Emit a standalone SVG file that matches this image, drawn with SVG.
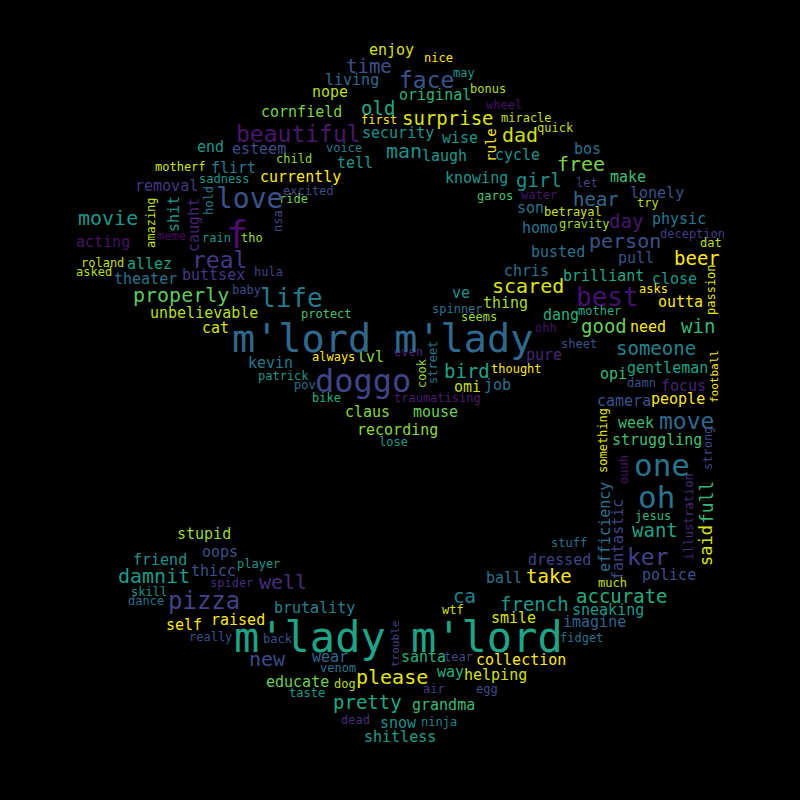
<svg xmlns="http://www.w3.org/2000/svg" width="800" height="800" viewBox="0 0 800 800">
<style>
text{font-family:"DejaVu Sans Mono","Liberation Mono",monospace}
.a{font-size:12px}.b{font-size:15px}.c{font-size:19px}.d{font-size:20px}.e{font-size:23px}
</style>
<rect width="800" height="800" fill="#000"/>
<g id="words">
<text x="369" y="55" class="b" fill="#d8e219">enjoy</text>
<text x="424" y="62" class="a" fill="#fde725">nice</text>
<text x="346" y="73" class="c" fill="#3b528b">time</text>
<text x="399" y="88" class="e" fill="#39568c">face</text>
<text x="453" y="77" class="a" fill="#1f968b">may</text>
<text x="325" y="85" class="b" fill="#31688e">living</text>
<text x="312" y="97" class="b" fill="#b5de2b">nope</text>
<text x="399" y="100" class="b" fill="#2db27d">original</text>
<text x="470" y="93" class="a" fill="#b5de2b">bonus</text>
<text x="486" y="109" class="a" fill="#471063">wheel</text>
<text x="361" y="115" class="c" fill="#25ab82">old</text>
<text x="402" y="125" class="c" fill="#dfe318">surprise</text>
<text x="361" y="124" class="a" fill="#fde725">first</text>
<text x="501" y="122" class="a" fill="#c2df23">miracle</text>
<text x="261" y="117" class="b" fill="#7ad151">cornfield</text>
<text x="236" y="142" class="e" fill="#48186a">beautiful</text>
<text x="362" y="138" class="b" fill="#21918c">security</text>
<text x="442" y="143" class="b" fill="#1f968b">wise</text>
<text transform="translate(496,162) rotate(-90)" font-size="14" fill="#fde725">rule</text>
<text x="502" y="142" class="d" fill="#d0e11c">dad</text>
<text x="537" y="132" class="a" fill="#c2df23">quick</text>
<text x="197" y="152" class="b" fill="#1f968b">end</text>
<text x="232" y="154" class="b" fill="#3e4a89">esteem</text>
<text x="326" y="152" class="a" fill="#2a788e">voice</text>
<text x="386" y="158" class="d" fill="#21918c">man</text>
<text x="422" y="161" class="b" fill="#1f968b">laugh</text>
<text x="495" y="160" class="b" fill="#218f8d">cycle</text>
<text x="574" y="154" class="b" fill="#2c728e">bos</text>
<text x="337" y="168" class="b" fill="#1f968b">tell</text>
<text x="276" y="163" class="a" fill="#8fd744">child</text>
<text x="155" y="171" class="a" fill="#d0e11c">motherf</text>
<text x="211" y="173" class="b" fill="#2a788e">flirt</text>
<text x="260" y="182" class="b" fill="#fde725">currently</text>
<text x="445" y="183" class="b" fill="#1f968b">knowing</text>
<text x="516" y="187" class="c" fill="#21918c">girl</text>
<text x="557" y="171" class="d" fill="#7ad151">free</text>
<text x="610" y="182" class="b" fill="#40bd72">make</text>
<text x="576" y="187" class="a" fill="#414487">let</text>
<text x="135" y="191" class="b" fill="#443983">removal</text>
<text x="199" y="183" class="a" fill="#1f968b">sadness</text>
<text x="283" y="195" class="a" fill="#3e4a89">excited</text>
<text x="279" y="203" class="a" fill="#6ece58">ride</text>
<text x="477" y="200" class="a" fill="#4ac16d">garos</text>
<text x="521" y="199" class="a" fill="#481668">water</text>
<text x="573" y="206" class="c" fill="#31688e">hear</text>
<text x="630" y="198" class="b" fill="#3b528b">lonely</text>
<text x="637" y="207" class="a" fill="#b5de2b">try</text>
<text x="517" y="213" class="b" fill="#2c728e">son</text>
<text x="544" y="216" class="a" fill="#c8e020">betrayal</text>
<text transform="translate(213,215) rotate(-90)" class="a" fill="#2a788e">hold</text>
<text transform="translate(179,232) rotate(-90)" class="b" fill="#1f968b">shit</text>
<text transform="translate(199,252) rotate(-90)" class="b" fill="#482475">caught</text>
<text transform="translate(155,248) rotate(-90)" class="a" fill="#c8e020">amazing</text>
<text x="78" y="225" class="d" fill="#1f968b">movie</text>
<text x="216" y="208" font-size="28" fill="#3b528b">love</text>
<text x="226" y="248" font-size="37" fill="#4b0c6b">f</text>
<text x="192" y="268" class="e" fill="#443983">real</text>
<text x="609" y="228" class="c" fill="#48186a">day</text>
<text x="652" y="224" class="b" fill="#2a788e">physic</text>
<text x="522" y="233" class="b" fill="#2c728e">homo</text>
<text x="559" y="228" class="a" fill="#a0da39">gravity</text>
<text x="660" y="238" class="a" fill="#433e85">deception</text>
<text x="589" y="248" class="d" fill="#3b528b">person</text>
<text x="700" y="247" class="a" fill="#b8de29">dat</text>
<text x="531" y="257" class="b" fill="#2c728e">busted</text>
<text x="618" y="263" class="b" fill="#3b528b">pull</text>
<text x="674" y="265" class="c" fill="#fde725">beer</text>
<text x="504" y="276" class="b" fill="#2c728e">chris</text>
<text x="563" y="281" class="b" fill="#22a884">brilliant</text>
<text x="652" y="284" class="b" fill="#1f968b">close</text>
<text x="492" y="293" class="d" fill="#dde318">scared</text>
<text transform="translate(715,315) rotate(-90)" class="a" fill="#e5e419">passion</text>
<text x="639" y="293" class="a" fill="#fde725">asks</text>
<text x="576" y="306" font-size="26" fill="#46106f">best</text>
<text x="658" y="307" class="b" fill="#fde725">outta</text>
<text x="127" y="269" class="b" fill="#1fa187">allez</text>
<text x="182" y="280" class="b" fill="#443983">buttsex</text>
<text x="254" y="276" class="a" fill="#414487">hula</text>
<text x="81" y="267" class="a" fill="#c0df25">roland</text>
<text x="76" y="276" class="a" fill="#b5de2b">asked</text>
<text x="202" y="242" class="a" fill="#1f968b">rain</text>
<text x="241" y="242" class="a" fill="#a0da39">tho</text>
<text x="157" y="240" class="a" fill="#46085c">meme</text>
<text transform="translate(282,232) rotate(-90)" class="a" fill="#3e4a89">nsa</text>
<text x="232" y="294" class="a" fill="#3e4a89">baby</text>
<text x="133" y="302" class="d" fill="#5ec962">properly</text>
<text x="150" y="318" class="b" fill="#b5de2b">unbelievable</text>
<text x="202" y="333" class="b" fill="#d5e21a">cat</text>
<text x="260" y="307" font-size="26" fill="#2a788e">life</text>
<text x="114" y="284" class="b" fill="#2c728e">theater</text>
<text x="76" y="247" class="b" fill="#471365">acting</text>
<text x="248" y="368" class="b" fill="#2a788e">kevin</text>
<text x="258" y="380" class="a" fill="#1f968b">patrick</text>
<text x="294" y="389" class="a" fill="#2c728e">pov</text>
<text x="301" y="318" class="a" fill="#4ac16d">protect</text>
<text x="312" y="361" class="a" fill="#fde725">always</text>
<text x="357" y="362" class="b" fill="#8fd744">lvl</text>
<text x="394" y="356" class="a" fill="#482878">even</text>
<text transform="translate(426,388) rotate(-90)" class="a" fill="#90d743">cook</text>
<text transform="translate(437,384) rotate(-90)" class="a" fill="#2a788e">street</text>
<text x="444" y="378" class="c" fill="#20a386">bird</text>
<text x="454" y="392" class="b" fill="#c0df25">omi</text>
<text x="484" y="390" class="b" fill="#2c728e">job</text>
<text x="452" y="298" class="b" fill="#21918c">ve</text>
<text x="432" y="313" class="a" fill="#2c728e">spinner</text>
<text x="461" y="321" class="a" fill="#a0da39">seems</text>
<text x="483" y="308" class="b" fill="#a5db36">thing</text>
<text x="543" y="320" class="b" fill="#29af7f">dang</text>
<text x="578" y="315" class="a" fill="#25ab82">mother</text>
<text x="581" y="333" class="c" fill="#6ccd5a">good</text>
<text x="630" y="332" class="b" fill="#fde725">need</text>
<text x="681" y="333" class="c" fill="#35b779">win</text>
<text x="535" y="332" class="a" fill="#471365">ohh</text>
<text x="616" y="355" class="c" fill="#26828e">someone</text>
<text x="561" y="348" class="a" fill="#3b528b">sheet</text>
<text x="526" y="360" class="b" fill="#482475">pure</text>
<text x="491" y="373" class="a" fill="#fde725">thought</text>
<text x="627" y="373" class="b" fill="#20a386">gentleman</text>
<text x="600" y="379" class="b" fill="#3bbb75">opi</text>
<text transform="translate(718,403) rotate(-90)" font-size="11" fill="#fde725">football</text>
<text x="627" y="387" class="a" fill="#3b528b">damn</text>
<text x="661" y="391" class="b" fill="#482475">focus</text>
<text x="232" y="352" font-size="38.5" fill="#31688e">m'lord m'lady</text>
<text x="315" y="392" font-size="32" fill="#404588">doggo</text>
<text x="312" y="402" class="a" fill="#29af7f">bike</text>
<text x="394" y="402" class="a" fill="#481c6e">traumatising</text>
<text x="345" y="417" class="b" fill="#86d549">claus</text>
<text x="413" y="417" class="b" fill="#6ece58">mouse</text>
<text x="357" y="435" class="b" fill="#8fd744">recording</text>
<text x="379" y="446" class="a" fill="#1f968b">lose</text>
<text x="597" y="406" class="b" fill="#3b528b">camera</text>
<text x="651" y="404" class="b" fill="#fde725">people</text>
<text transform="translate(607,473) rotate(-90)" class="a" fill="#e5e419">something</text>
<text x="659" y="429" class="e" fill="#31688e">move</text>
<text x="618" y="428" class="b" fill="#3dbc74">week</text>
<text x="612" y="445" class="b" fill="#44bf70">struggling</text>
<text transform="translate(712,470) rotate(-90)" class="a" fill="#3e4a89">strong</text>
<text transform="translate(628,484) rotate(-90)" class="a" fill="#471365">ouuh</text>
<text x="634" y="476" font-size="31" fill="#2c728e">one</text>
<text x="638" y="508" font-size="31" fill="#2c728e">oh</text>
<text transform="translate(713,524) rotate(-90)" font-size="18" fill="#35b779">full</text>
<text transform="translate(712,566) rotate(-90)" font-size="17" fill="#d8e219">said</text>
<text transform="translate(610,572) rotate(-90)" class="b" fill="#2c728e">efficiency</text>
<text transform="translate(623,580) rotate(-90)" class="b" fill="#414487">fantastic</text>
<text x="635" y="520" class="a" fill="#2fb47c">jesus</text>
<text transform="translate(693,560) rotate(-90)" class="a" fill="#472c7a">illustration</text>
<text x="632" y="537" class="c" fill="#20a386">want</text>
<text x="551" y="547" class="a" fill="#2c728e">stuff</text>
<text x="528" y="565" class="b" fill="#414487">dressed</text>
<text x="627" y="565" class="e" fill="#424086">ker</text>
<text x="642" y="580" class="b" fill="#3b528b">police</text>
<text x="526" y="583" class="c" fill="#fde725">take</text>
<text x="486" y="583" class="b" fill="#2c728e">ball</text>
<text x="598" y="587" class="a" fill="#c8e020">much</text>
<text x="177" y="539" class="b" fill="#9dd93b">stupid</text>
<text x="202" y="557" class="b" fill="#3b528b">oops</text>
<text x="133" y="565" class="b" fill="#21918c">friend</text>
<text x="237" y="568" class="a" fill="#1f968b">player</text>
<text x="191" y="576" class="b" fill="#3b528b">thicc</text>
<text x="118" y="583" class="d" fill="#1e9b8a">damnit</text>
<text x="210" y="587" class="a" fill="#472a7a">spider</text>
<text x="259" y="589" class="d" fill="#472c7a">well</text>
<text x="131" y="596" class="a" fill="#21918c">skill</text>
<text x="128" y="605" class="a" fill="#2c728e">dance</text>
<text x="168" y="609" font-size="24" fill="#414487">pizza</text>
<text x="274" y="613" class="b" fill="#26828e">brutality</text>
<text x="166" y="630" class="b" fill="#fde725">self</text>
<text x="211" y="625" class="b" fill="#fde725">raised</text>
<text x="189" y="641" class="a" fill="#3b528b">really</text>
<text x="263" y="643" class="a" fill="#3b528b">back</text>
<text x="234" y="652" font-size="42" fill="#20a386">m'lady m'lord</text>
<text x="249" y="666" class="d" fill="#3e4a89">new</text>
<text x="312" y="662" class="b" fill="#31688e">wear</text>
<text x="401" y="662" class="b" fill="#29af7f">santa</text>
<text x="444" y="661" class="a" fill="#3e4a89">tear</text>
<text x="476" y="665" class="b" fill="#fde725">collection</text>
<text x="320" y="672" class="a" fill="#2a788e">venom</text>
<text x="266" y="687" class="b" fill="#6ece58">educate</text>
<text x="334" y="688" class="a" fill="#b5de2b">dog</text>
<text x="356" y="684" class="d" fill="#e5e419">please</text>
<text x="437" y="677" class="b" fill="#29af7f">way</text>
<text x="464" y="680" class="b" fill="#d0e11c">helping</text>
<text x="289" y="697" class="a" fill="#1f968b">taste</text>
<text x="423" y="693" class="a" fill="#433e85">air</text>
<text x="476" y="693" class="a" fill="#3e4a89">egg</text>
<text x="333" y="709" class="c" fill="#22a884">pretty</text>
<text x="412" y="710" class="b" fill="#3aba76">grandma</text>
<text x="341" y="724" class="a" fill="#472d7b">dead</text>
<text x="380" y="728" class="b" fill="#21918c">snow</text>
<text x="421" y="726" class="a" fill="#26828e">ninja</text>
<text x="364" y="742" class="b" fill="#1f9e89">shitless</text>
<text transform="translate(399,667) rotate(-90)" font-size="11" fill="#414487">trouble</text>
<text x="453" y="603" class="c" fill="#26828e">ca</text>
<text x="442" y="614" class="a" fill="#d0e11c">wtf</text>
<text x="500" y="611" class="c" fill="#1f968b">french</text>
<text x="491" y="623" class="b" fill="#d8e219">smile</text>
<text x="576" y="603" class="c" fill="#28ae80">accurate</text>
<text x="572" y="615" class="b" fill="#1f9a8a">sneaking</text>
<text x="563" y="627" class="b" fill="#33638d">imagine</text>
<text x="560" y="642" class="a" fill="#2c728e">fidget</text>
</g>
</svg>
